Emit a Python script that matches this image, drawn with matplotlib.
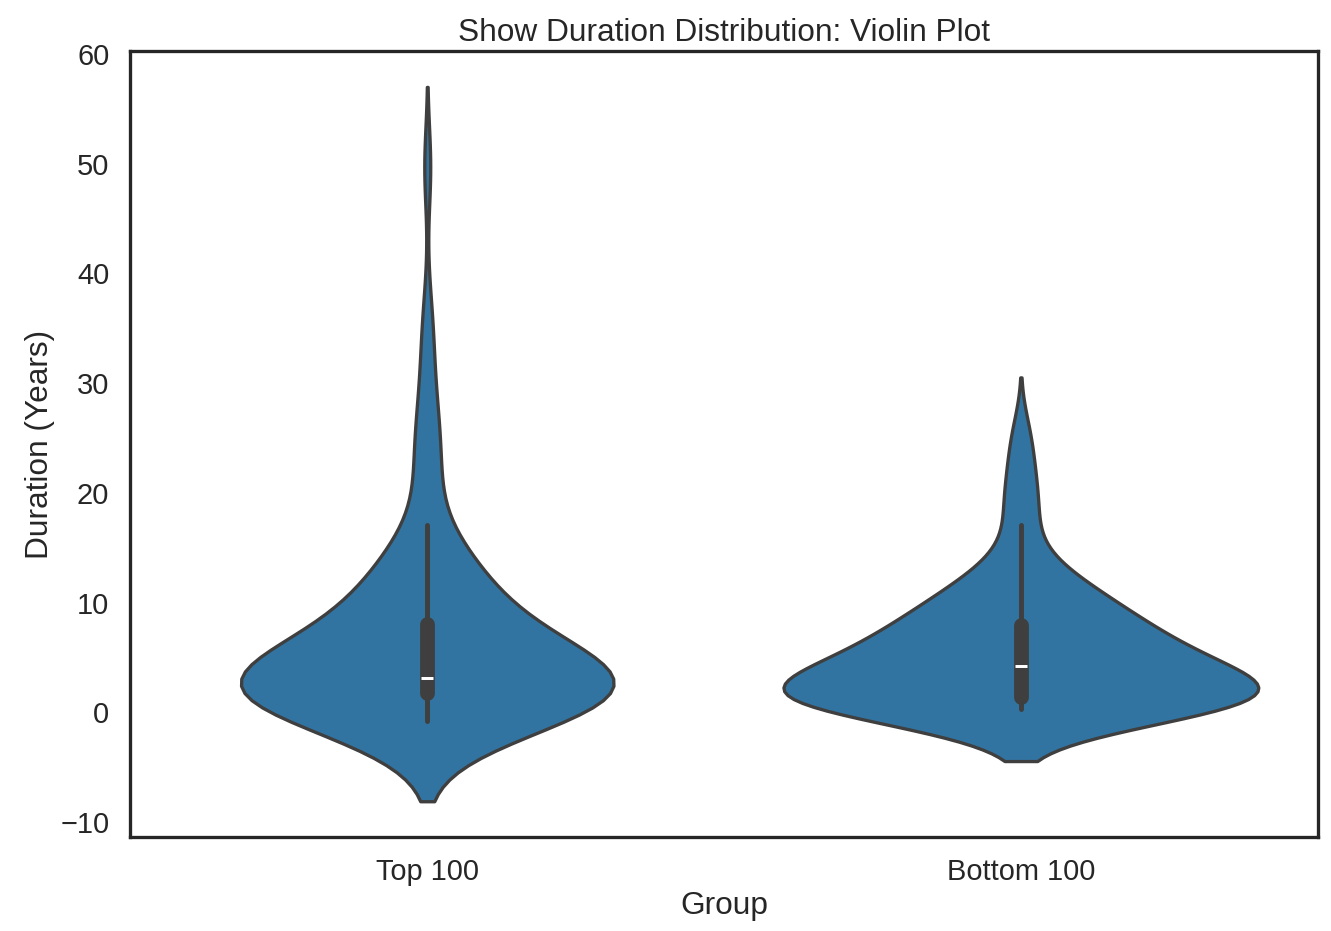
import matplotlib
matplotlib.use('Agg')
import matplotlib.pyplot as plt
import pandas as pd
import seaborn as sns

# show durations in years, estimated from the violin shapes and inner boxes
groups = ['Top 100', 'Bottom 100']

top_100_years = [
    -0.8, 0, 0, 0, 0, 0, 0, 0, 0, 0, 0, 0, 0, 0, 0, 0, 0, 0, 0,
    1, 1, 1, 1, 1, 1,
    2, 2, 2, 2, 2, 2, 2, 2, 2, 2, 2,
    3, 3, 3, 3, 3, 3, 3, 3, 3, 3, 3, 3, 3, 3, 3.3,
    4, 4, 4, 4, 4, 4, 5, 5, 5, 5, 5, 6, 6, 6, 6, 7, 7, 7, 7, 8, 8, 8, 8, 8,
    8.2, 10, 10, 10, 11, 11, 11, 12, 12, 12, 13, 13, 14, 14, 15, 16, 17.1,
    21, 22, 24, 26, 28, 32, 36, 49.7,
]

bottom_100_years = [
    0.3, 0.3, 0.3, 0.3, 0.3, 0.3, 0.3, 0.3, 0.3, 0.3, 0.3,
    0.3, 0.3, 0.3, 0.3, 0.3, 0.3, 0.3, 0.3, 0.3, 0.3,
    1, 1, 1, 1, 1.6, 1.8, 1.9, 1.9,
    2, 2, 2, 2, 2, 2, 2, 2, 2,
    3, 3, 3, 3, 3, 3, 3, 3, 3, 3, 3,
    4, 4.4, 4.5, 4.5, 4.6, 4.6, 4.8,
    5, 5, 5, 5, 5, 5, 6, 6, 6, 6, 6, 7, 7, 7, 7, 7, 8, 8, 8, 8, 8, 8,
    9, 9, 9, 9.5, 10, 10, 10, 11, 11, 11, 12, 12, 12, 13, 14, 15, 17.1,
    18.5, 19.8, 21.5, 23.5, 25.8,
]

sns.set_theme(style='white')
plt.rcParams['font.family'] = ['Liberation Sans', 'DejaVu Sans']

df = pd.DataFrame({
    'Group': [groups[0]] * len(top_100_years) + [groups[1]] * len(bottom_100_years),
    'Duration': top_100_years + bottom_100_years,
})

fig, ax = plt.subplots(figsize=(1331 / 190, 931 / 190), dpi=190)
sns.violinplot(data=df, x='Group', y='Duration', order=groups,
               color='#1f77b4', bw_method=0.43, ax=ax)

ax.set_title('Show Duration Distribution: Violin Plot', pad=3.7)
ax.set_xlabel('Group', labelpad=2)
ax.set_ylabel('Duration (Years)', labelpad=2)
ax.tick_params(axis='both', pad=2)

fig.subplots_adjust(left=0.098, right=0.990, top=0.945, bottom=0.101)
fig.savefig('out.png', dpi=190)
